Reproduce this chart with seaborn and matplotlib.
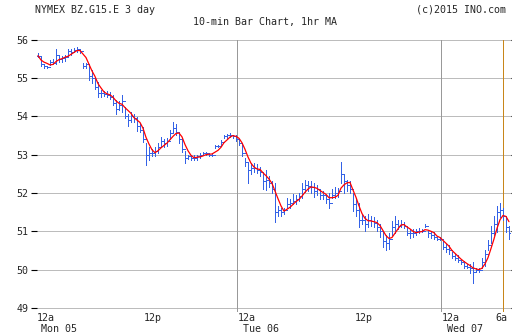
import numpy as np
import pandas as pd
import matplotlib
matplotlib.use("Agg")
import matplotlib.pyplot as plt
import seaborn as sns

# ---- data (10-min bars) ----
lows = [55.55, 55.30, 55.26, 55.25, 55.33, 55.36, 55.35, 55.42, 55.41, 55.45,
        55.55, 55.60, 55.67, 55.68, 55.66, 55.25, 55.27, 54.95, 54.86, 54.70,
        54.50, 54.50, 54.52, 54.50, 54.45, 54.30, 54.07, 54.15, 54.10, 53.95,
        53.75, 53.85, 53.85, 53.62, 53.58, 53.32, 52.72, 52.85, 52.95, 52.95,
        53.05, 53.19, 53.20, 53.22, 53.40, 53.55, 53.50, 53.30, 53.06, 52.77,
        52.88, 52.86, 52.86, 52.85, 52.90, 52.98, 52.99, 52.95, 52.96, 53.18,
        53.19, 53.24, 53.42, 53.44, 53.45, 53.42, 53.35, 53.25, 52.95, 52.70,
        52.27, 52.50, 52.55, 52.52, 52.45, 52.10, 52.07, 52.15, 52.00, 51.23,
        51.40, 51.41, 51.45, 51.60, 51.62, 51.70, 51.72, 51.80, 51.88, 52.02,
        52.05, 52.00, 51.90, 51.95, 51.85, 51.85, 51.75, 51.60, 51.88, 51.86,
        51.90, 52.25, 52.00, 52.05, 52.00, 51.54, 51.40, 51.10, 51.20, 51.00,
        51.10, 51.15, 51.12, 51.00, 50.85, 50.60, 50.50, 50.55, 50.90, 50.95,
        51.05, 51.10, 51.08, 50.90, 50.82, 50.85, 50.90, 50.95, 50.97, 51.10,
        50.85, 50.82, 50.80, 50.76, 50.76, 50.55, 50.45, 50.40, 50.30, 50.25,
        50.19, 50.15, 50.05, 50.03, 49.90, 49.66, 49.95, 49.95, 50.05, 50.10,
        50.50, 50.70, 50.90, 50.97, 51.36, 51.30, 50.97, 50.80]
highs = [55.64, 55.56, 55.34, 55.32, 55.47, 55.50, 55.75, 55.60, 55.58, 55.60,
         55.75, 55.74, 55.78, 55.80, 55.76, 55.40, 55.40, 55.30, 55.20, 54.99,
         54.90, 54.68, 54.66, 54.65, 54.62, 54.55, 54.41, 54.40, 54.55, 54.24,
         54.07, 54.10, 54.05, 53.97, 53.80, 53.71, 53.30, 53.19, 53.15, 53.20,
         53.30, 53.45, 53.40, 53.42, 53.65, 53.84, 53.80, 53.60, 53.42, 53.10,
         53.00, 52.98, 52.98, 53.00, 53.05, 53.07, 53.06, 53.03, 53.04, 53.25,
         53.26, 53.38, 53.52, 53.54, 53.55, 53.52, 53.50, 53.40, 53.28, 52.92,
         52.80, 52.78, 52.78, 52.75, 52.67, 52.55, 52.59, 52.45, 52.30, 52.25,
         51.65, 51.60, 51.62, 51.86, 51.84, 51.96, 51.94, 52.00, 52.25, 52.33,
         52.32, 52.30, 52.25, 52.20, 52.10, 52.05, 51.95, 52.00, 52.10, 52.15,
         52.12, 52.80, 52.50, 52.35, 52.30, 51.99, 51.88, 51.73, 51.45, 51.40,
         51.46, 51.40, 51.36, 51.30, 51.20, 51.02, 50.90, 50.95, 51.28, 51.41,
         51.30, 51.30, 51.25, 51.10, 51.07, 51.05, 51.05, 51.08, 51.05, 51.20,
         51.02, 51.00, 50.98, 50.86, 50.85, 50.75, 50.68, 50.63, 50.45, 50.40,
         50.37, 50.25, 50.22, 50.16, 50.16, 50.19, 50.05, 50.05, 50.30, 50.50,
         50.76, 51.15, 51.40, 51.67, 51.73, 51.62, 51.41, 51.15]
closes = [55.58, 55.35, 55.30, 55.28, 55.42, 55.40, 55.60, 55.48, 55.52, 55.55,
          55.70, 55.68, 55.72, 55.75, 55.70, 55.32, 55.35, 55.05, 55.00, 54.75,
          54.60, 54.60, 54.58, 54.55, 54.50, 54.35, 54.20, 54.30, 54.40, 54.00,
          53.90, 54.00, 53.95, 53.75, 53.65, 53.40, 53.00, 53.05, 53.05, 53.10,
          53.20, 53.35, 53.30, 53.35, 53.55, 53.70, 53.60, 53.40, 53.15, 52.90,
          52.95, 52.92, 52.90, 52.95, 52.98, 53.03, 53.03, 53.00, 53.00, 53.22,
          53.22, 53.32, 53.48, 53.50, 53.52, 53.48, 53.40, 53.30, 53.05, 52.80,
          52.60, 52.65, 52.65, 52.60, 52.55, 52.30, 52.35, 52.25, 52.10, 51.50,
          51.55, 51.50, 51.55, 51.70, 51.75, 51.80, 51.85, 51.92, 52.10, 52.20,
          52.18, 52.15, 52.05, 52.10, 51.95, 51.95, 51.85, 51.75, 51.95, 52.00,
          52.05, 52.50, 52.30, 52.20, 52.10, 51.70, 51.55, 51.30, 51.30, 51.20,
          51.30, 51.28, 51.22, 51.10, 51.00, 50.75, 50.70, 50.80, 51.10, 51.20,
          51.15, 51.20, 51.15, 50.95, 50.95, 50.95, 51.00, 51.02, 51.00, 51.15,
          50.95, 50.90, 50.85, 50.80, 50.80, 50.60, 50.55, 50.50, 50.35, 50.30,
          50.25, 50.20, 50.10, 50.08, 50.05, 49.95, 50.00, 50.00, 50.20, 50.40,
          50.65, 50.95, 51.20, 51.50, 51.55, 51.40, 51.10, 50.95]
y_ticks = [49, 50, 51, 52, 53, 54, 55, 56]
title_left = "NYMEX BZ.G15.E 3 day"
title_right = "(c)2015 INO.com"
subtitle = "10-min Bar Chart, 1hr MA"
time_labels = ["12a", "12p", "12a", "12p", "12a", "6a"]
day_labels = ["Mon 05", "Tue 06", "Wed 07"]

# ---- figure ----
W, H = 512, 335
sns.set_theme(style="white")
plt.rcParams["font.family"] = ["DejaVu Sans Mono", "DejaVu Sans"]
fig = plt.figure(figsize=(W / 100, H / 100), dpi=100)
fig.patch.set_facecolor("white")

def px(x0, y0, x1, y1):
    return [x0 / W, 1 - y1 / H, (x1 - x0) / W, (y1 - y0) / H]

ax = fig.add_axes(px(37, 39.5, 511, 308))
ax.set_facecolor("white")

idx = np.arange(len(closes))
opens = [closes[0]] + closes[:-1]
df = pd.DataFrame({"bar": idx, "low": lows, "high": highs,
                   "open": opens, "close": closes})
df["ma"] = df["close"].rolling(4, min_periods=1).mean()

LW = 0.6  # ~1 px
# horizontal grid
for yv in y_ticks:
    ax.axhline(yv, color="#bcbcbc", lw=LW, zorder=0, clip_on=False,
               antialiased=False)

# day separators
for xb in [66.33, 134.33]:
    ax.axvline(xb, ymin=-0.012, ymax=1, color="#999999", lw=LW, zorder=0.5,
               clip_on=False, antialiased=False)
ax.axvline(155.0, ymin=-0.012, ymax=1, color="#c8861a", lw=0.72, zorder=1,
           clip_on=False, antialiased=False)

bar_col = "#3462e6"
ax.vlines(df["bar"], df["low"], df["high"], color=bar_col, lw=LW, zorder=2,
          antialiased=False)
ax.hlines(df["open"], df["bar"] - 0.45, df["bar"], color=bar_col, lw=LW,
          zorder=2, antialiased=False)
ax.hlines(df["close"], df["bar"], df["bar"] + 0.45, color=bar_col, lw=LW,
          zorder=2, antialiased=False)

sns.lineplot(data=df, x="bar", y="ma", color="#ff0000", lw=0.9, ax=ax,
             zorder=3, legend=False)

ax.set_xlim(-0.33, 157.67)
ax.set_ylim(49, 56)
ax.set_yticks(y_ticks)
ax.set_yticklabels([str(v) for v in y_ticks], fontsize=7.2,
                   family="DejaVu Sans Mono")
ax.set_xticks([])
ax.set_xlabel("")
ax.set_ylabel("")
ax.tick_params(axis="y", left=True, right=True, length=4, width=0.8,
               color="black", pad=2, labelleft=True, labelright=False)
for s in ax.spines.values():
    s.set_visible(False)

fs = 7.2
fig.text(35 / W, 1 - 10 / H, title_left, fontsize=fs, ha="left", va="center")
fig.text(506 / W, 1 - 10 / H, title_right, fontsize=fs, ha="right", va="center")
fig.text(265 / W, 1 - 22 / H, subtitle, fontsize=fs, ha="center", va="center")

tl_px = [37, 144, 238, 355, 442, 495]
for lab, xp in zip(time_labels, tl_px):
    fig.text(xp / W, 1 - 318 / H, lab, fontsize=fs, ha="left", va="center")
for lab, xp in zip(day_labels, [41, 243, 447]):
    fig.text(xp / W, 1 - 329 / H, lab, fontsize=fs, ha="left", va="center")

fig.savefig("out.png", dpi=100, facecolor="white")
